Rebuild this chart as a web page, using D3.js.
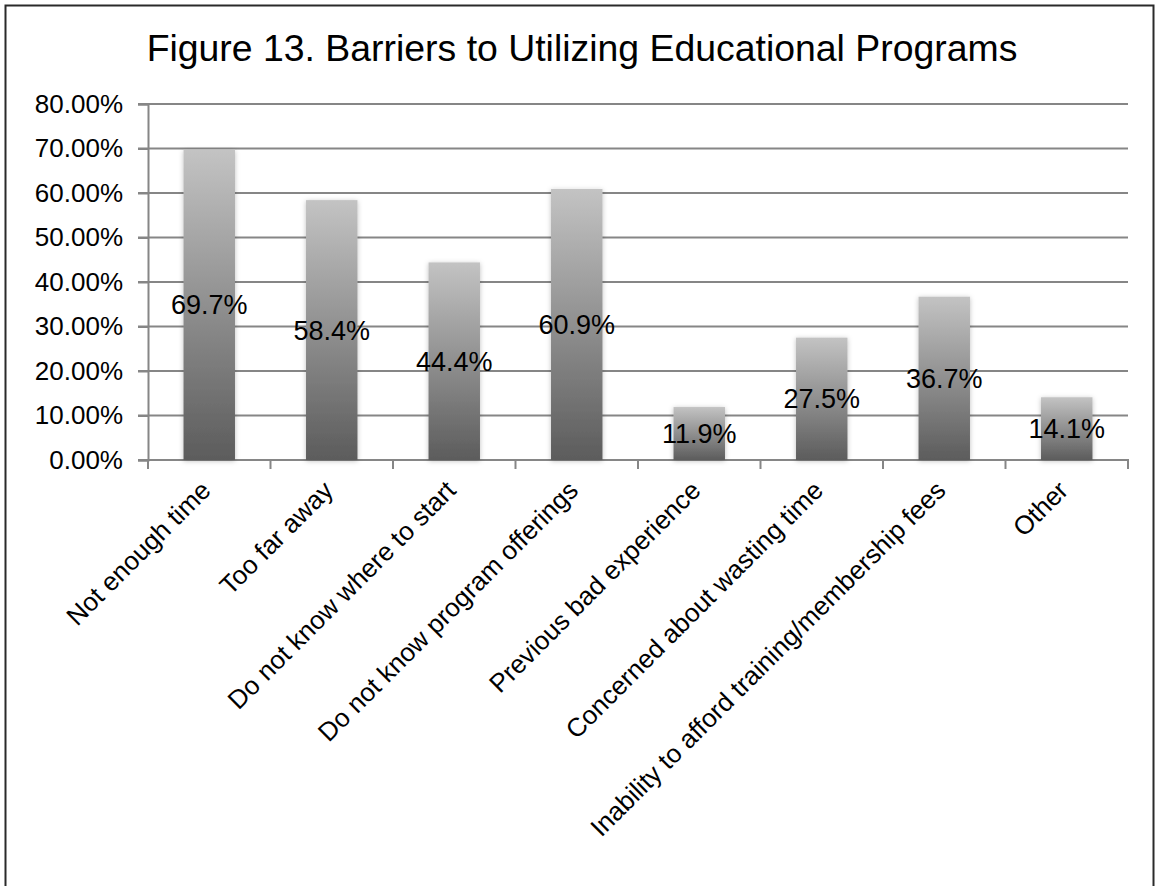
<!DOCTYPE html>
<html><head><meta charset="utf-8">
<script src="https://cdn.jsdelivr.net/npm/d3@7"></script>
<style>body{margin:0;background:#fff}svg{display:block}text{font-family:"Liberation Sans",Arial,sans-serif}</style>
</head><body><svg id="c" width="1157" height="886"></svg>
<script>
const title = "Figure 13. Barriers to Utilizing Educational Programs";
const categories = ["Not enough time","Too far away","Do not know where to start","Do not know program offerings","Previous bad experience","Concerned about wasting time","Inability to afford training/membership fees","Other"];
const values = [0.697,0.584,0.444,0.609,0.119,0.275,0.367,0.141];
const valueLabels = ["69.7%","58.4%","44.4%","60.9%","11.9%","27.5%","36.7%","14.1%"];
const yTicks = [0,0.1,0.2,0.3,0.4,0.5,0.6,0.7,0.8];

const svg = d3.select("#c");
const defs = svg.append("defs");
const g1 = defs.append("linearGradient").attr("id","bg").attr("x1",0).attr("y1",0).attr("x2",0).attr("y2",1);
g1.append("stop").attr("offset","0%").attr("stop-color","#c3c3c3");
g1.append("stop").attr("offset","100%").attr("stop-color","#5c5c5c");
const f = defs.append("filter").attr("id","sh").attr("x","-30%").attr("y","-10%").attr("width","160%").attr("height","120%");
f.append("feDropShadow").attr("dx",0).attr("dy",1).attr("stdDeviation",2.5).attr("flood-color","#000").attr("flood-opacity",0.25);

svg.append("rect").attr("x",5.5).attr("y",5.5).attr("width",1148).attr("height",900)
  .attr("fill","#fff").attr("stroke","#2a2a2a").attr("stroke-width",2);

const x = d3.scaleBand().domain(categories).range([148,1128]).paddingInner(0.58).paddingOuter(0.29);
const xb = d3.scaleBand().domain(categories).range([148,1128]);
const y = d3.scaleLinear().domain([0,0.8]).range([460,104]);

svg.append("text").attr("x",582).attr("y",61).attr("text-anchor","middle")
  .attr("font-size",37.4).attr("fill","#000").text(title);

// gridlines
svg.append("g").selectAll("line").data(yTicks).join("line")
  .attr("x1",138).attr("x2",1128).attr("y1",d=>y(d)).attr("y2",d=>y(d))
  .attr("stroke","#868686").attr("stroke-width",2);

// y axis
const ya = svg.append("g").attr("transform","translate(148,0)")
  .call(d3.axisLeft(y).tickValues(yTicks).tickFormat(d3.format(".2%")).tickSize(10).tickPadding(15));
ya.select(".domain").attr("stroke","#868686").attr("stroke-width",2);
ya.selectAll(".tick line").attr("stroke","#868686").attr("stroke-width",2);
ya.selectAll("text").attr("font-size",26).attr("fill","#000").attr("font-family",'"Liberation Sans",Arial,sans-serif');

// x axis ticks at band boundaries
const bounds = categories.map(c=>xb(c)).concat([1128]);
svg.append("g").selectAll("line").data(bounds).join("line")
  .attr("x1",d=>d).attr("x2",d=>d).attr("y1",460).attr("y2",469)
  .attr("stroke","#868686").attr("stroke-width",2);
svg.append("line").attr("x1",147).attr("x2",1129).attr("y1",460).attr("y2",460)
  .attr("stroke","#868686").attr("stroke-width",2);

// bars
svg.append("g").selectAll("rect").data(values).join("rect")
  .attr("x",(d,i)=>x(categories[i])).attr("width",x.bandwidth())
  .attr("y",d=>y(d)).attr("height",d=>y(0)-y(d))
  .attr("fill","url(#bg)").attr("filter","url(#sh)");

// value labels
svg.append("g").selectAll("text").data(values).join("text")
  .attr("x",(d,i)=>x(categories[i])+x.bandwidth()/2)
  .attr("y",d=>(y(d)+y(0))/2).attr("dy","0.35em")
  .attr("text-anchor","middle").attr("font-size",27).attr("fill","#000")
  .text((d,i)=>valueLabels[i]);

// category labels
svg.append("g").selectAll("text").data(categories).join("text")
  .attr("transform",d=>`translate(${xb(d)+xb.bandwidth()/2+3},${492}) rotate(-45)`)
  .attr("text-anchor","end").attr("font-size",26).attr("fill","#000")
  .text(d=>d);
</script></body></html>
